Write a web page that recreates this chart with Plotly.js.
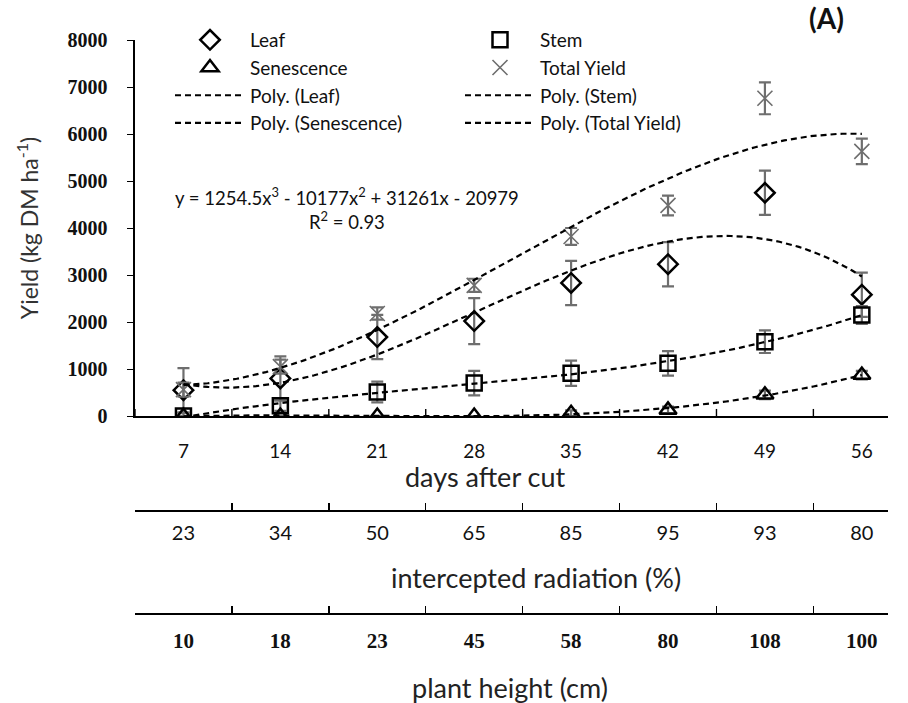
<!DOCTYPE html>
<html>
<head>
<meta charset="utf-8">
<script src="https://cdn.plot.ly/plotly-3.0.1.min.js"></script>
<style>html,body{margin:0;padding:0;background:#fff;}#chart{width:908px;height:703px;}</style>
</head>
<body>
<div id="chart"></div>
<script>
// ---- data ----
const days = [7, 14, 21, 28, 35, 42, 49, 56];
const radiation = [23, 34, 50, 65, 85, 95, 93, 80];
const plantHeight = [10, 18, 23, 45, 58, 80, 108, 100];

const leaf = [550, 800, 1680, 2020, 2830, 3230, 4750, 2580];
const leafErr = [470, 470, 470, 490, 470, 470, 470, 470];
const stem = [0, 220, 510, 700, 910, 1120, 1580, 2150];
const stemErr = [60, 110, 220, 260, 270, 260, 240, 190];
const senescence = [0, 0, 0, 0, 60, 130, 450, 870];
const senescenceErr = [0, 0, 0, 0, 60, 70, 90, 90];
const totalYield = [560, 1050, 2180, 2780, 3820, 4480, 6760, 5630];
const totalErr = [150, 150, 130, 140, 180, 210, 340, 270];

const equationText = 'y = 1254.5x<sup>3</sup> - 10177x<sup>2</sup> + 31261x - 20979<br>R<sup>2</sup> = 0.93';

// ---- helpers ----
const idx = days.map((d, i) => i + 1);            // Excel category positions 1..n
const bounds = [0].concat(idx).map(v => v + 0.5); // category boundaries 0.5..n+0.5

// least-squares polynomial (Excel "Poly." trendline, order 3)
function polyFit(xs, ys, order) {
  const n = order + 1;
  const A = Array.from({length: n}, () => new Array(n + 1).fill(0));
  for (let r = 0; r < n; r++) {
    for (let c = 0; c < n; c++) {
      A[r][c] = xs.reduce((s, x) => s + Math.pow(x, r + c), 0);
    }
    A[r][n] = xs.reduce((s, x, k) => s + ys[k] * Math.pow(x, r), 0);
  }
  for (let p = 0; p < n; p++) {
    let m = p;
    for (let r = p + 1; r < n; r++) if (Math.abs(A[r][p]) > Math.abs(A[m][p])) m = r;
    [A[p], A[m]] = [A[m], A[p]];
    for (let r = 0; r < n; r++) {
      if (r === p) continue;
      const f = A[r][p] / A[p][p];
      for (let c = p; c <= n; c++) A[r][c] -= f * A[p][c];
    }
  }
  return A.map((row, r) => row[n] / row[r]);
}
function trend(ys) {
  const coef = polyFit(idx, ys, 3);
  const xs = [], yv = [];
  for (let k = 0; k <= 140; k++) {
    const x = 1 + k * (idx.length - 1) / 140;
    xs.push(x);
    yv.push(coef.reduce((s, c, p) => s + c * Math.pow(x, p), 0));
  }
  return {x: xs, y: yv};
}

const BLACK = '#000000';
const GREY = '#6e6e6e';

function pts(name, ys, errs, symbol, color, lw) {
  return {
    type: 'scatter', mode: 'markers', name: name,
    x: idx, y: ys,
    error_y: {type: 'data', array: errs, visible: true, color: GREY, thickness: 2.2, width: 6},
    marker: {symbol: symbol, size: 15, color: color, line: {color: color, width: lw}},
    hoverinfo: 'x+y'
  };
}
function poly(name, ys) {
  const t = trend(ys);
  return {
    type: 'scatter', mode: 'lines', name: name,
    x: t.x, y: t.y,
    line: {color: BLACK, width: 2.2, dash: '6px,4px'},
    hoverinfo: 'skip'
  };
}
function holder(xaxis) {
  return {
    type: 'scatter', mode: 'markers', xaxis: xaxis, yaxis: 'y',
    x: idx, y: idx.map(() => 0),
    marker: {opacity: 0, size: 1}, showlegend: false, hoverinfo: 'skip'
  };
}
// short upward tick marks on the category boundaries of the main x axis
const boundaryTicks = {
  type: 'scatter', mode: 'markers', x: bounds, y: bounds.map(() => 0),
  marker: {opacity: 0, size: 1},
  error_y: {type: 'data', symmetric: false, array: bounds.map(() => 150), arrayminus: bounds.map(() => 0),
            visible: true, color: BLACK, thickness: 1.4, width: 0},
  showlegend: false, hoverinfo: 'skip'
};

const traces = [
  boundaryTicks,
  pts('Leaf', leaf, leafErr, 'diamond-open', BLACK, 2.5),
  pts('Stem', stem, stemErr, 'square-open', BLACK, 2.5),
  pts('Senescence', senescence, senescenceErr, 'triangle-up-open', BLACK, 2.5),
  pts('Total Yield', totalYield, totalErr, 'x-thin-open', GREY, 1.6),
  poly('Poly. (Leaf)', leaf),
  poly('Poly. (Stem)', stem),
  poly('Poly. (Senescence)', senescence),
  poly('Poly. (Total Yield)', totalYield),
  holder('x2'), holder('x3'), holder('x4'), holder('x5'), holder('x6')
];

const SANS = 'Lato, "Open Sans", sans-serif';
const SERIF = '"Liberation Serif", "DejaVu Serif", serif';

// plot area: x 135..888 px, y 40..683 px
const PX = px => (px - 135) / 753;
const PY = py => (683 - py) / 643;
const XR = [0.5, 8.27];

// axis that draws a line with tick marks on the category boundaries
function tickLineAxis(pos) {
  return {
    overlaying: 'x', anchor: 'free', position: pos, range: XR,
    showline: true, linecolor: BLACK, linewidth: 1.6,
    tickmode: 'array', tickvals: bounds, ticks: 'inside', ticklen: 7, tickwidth: 1.4, tickcolor: BLACK,
    showticklabels: false, showgrid: false, zeroline: false
  };
}
// axis that only writes the category labels
function labelAxis(pos, labels, font, standoff) {
  return {
    overlaying: 'x', anchor: pos === null ? 'y' : 'free', position: pos === null ? 0 : pos, range: XR,
    showline: false, ticks: '', showgrid: false, zeroline: false,
    tickmode: 'array', tickvals: idx, ticktext: labels.map(String),
    tickfont: font, ticklabelstandoff: standoff
  };
}
function titleNote(text, cx, cy) {
  return {xref: 'paper', yref: 'paper', x: PX(cx), y: PY(cy), xanchor: 'center', yanchor: 'middle',
          showarrow: false, text: text, font: {family: SANS, size: 27, color: '#222'}};
}

const layout = {
  width: 908, height: 703,
  margin: {l: 135, r: 20, t: 40, b: 20, autoexpand: false},
  paper_bgcolor: '#ffffff', plot_bgcolor: '#ffffff',
  font: {family: SANS, color: '#111'},
  showlegend: true,
  legend: {
    orientation: 'h', xref: 'paper', yref: 'paper',
    x: PX(170), y: PY(21), xanchor: 'left', yanchor: 'top',
    entrywidth: 205, entrywidthmode: 'pixels', itemwidth: 70,
    font: {family: SANS, size: 19, color: '#111'},
    bgcolor: 'rgba(0,0,0,0)', tracegroupgap: 0, traceorder: 'normal'
  },
  xaxis: {
    domain: [0, 1], range: XR, anchor: 'y',
    showline: true, linecolor: BLACK, linewidth: 1.6,
    ticks: '', showticklabels: false, showgrid: false, zeroline: false
  },
  xaxis2: labelAxis(null, days, {family: SANS, size: 19, color: '#111'}, 22),
  xaxis3: tickLineAxis(PY(510)),
  xaxis4: labelAxis(PY(510), radiation, {family: SANS, size: 20, color: '#111'}, 9),
  xaxis5: tickLineAxis(PY(613)),
  xaxis6: labelAxis(PY(613), plantHeight, {family: SERIF, size: 21, color: '#111', weight: 'bold'}, 13),
  yaxis: {
    domain: [PY(416), 1], range: [0, 8000], dtick: 1000,
    showline: true, linecolor: BLACK, linewidth: 1.6,
    ticks: 'outside', ticklen: 6, tickcolor: BLACK,
    showgrid: false, zeroline: false,
    tickfont: {family: SERIF, size: 20, color: '#111', weight: 'bold'},
    ticklabelstandoff: 16,
    title: {text: 'Yield (kg DM ha<sup>-1</sup>)', font: {family: SANS, size: 23, color: '#333'}, standoff: 22}
  },
  annotations: [
    titleNote('days after cut', 485, 476),
    titleNote('intercepted radiation (%)', 536, 577),
    titleNote('plant height (cm)', 510, 687),
    {xref: 'paper', yref: 'paper', x: PX(347), y: PY(208),
     xanchor: 'center', yanchor: 'middle', showarrow: false, align: 'center',
     text: equationText, font: {family: SANS, size: 18.5, color: '#111'}},
    {xref: 'paper', yref: 'paper', x: PX(826), y: PY(18),
     xanchor: 'center', yanchor: 'middle', showarrow: false,
     text: '(A)', font: {family: SANS, size: 28, color: '#111', weight: 'bold'}}
  ]
};

Plotly.newPlot('chart', traces, layout, {displayModeBar: false, staticPlot: true});
</script>
</body>
</html>
